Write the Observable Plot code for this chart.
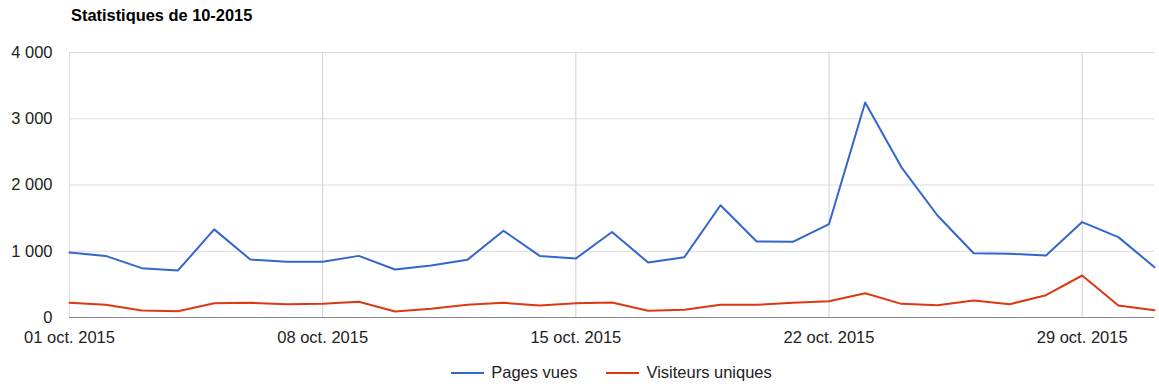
<!DOCTYPE html>
<html>
<head>
<meta charset="utf-8">
<script src="https://cdn.jsdelivr.net/npm/d3@7"></script>
<script src="https://cdn.jsdelivr.net/npm/@observablehq/plot@0.6"></script>
<style>
  html, body { margin: 0; padding: 0; background: #fff; }
  body { width: 1159px; height: 388px; position: relative; font-family: "Liberation Sans", Arial, sans-serif; overflow: hidden; }
  #title { position: absolute; left: 71px; top: 7px; font-size: 16.4px; line-height: 1; font-weight: bold; color: #000; white-space: nowrap; }
  #chart { position: absolute; left: 0; top: 36px; }
  #legend { position: absolute; left: 69px; width: 1085px; top: 363px; display: flex; justify-content: center; align-items: center; font-size: 16.5px; color: #222; }
  .item { display: flex; align-items: center; margin: 0 14.5px; }
  .sw { width: 33px; height: 2px; margin-right: 7px; }
</style>
</head>
<body>
<div id="title">Statistiques de 10-2015</div>
<div id="chart"></div>
<div id="legend"></div>
<script>
// Data
const year = 2015;
const monthIndex = 9; // October
const monthLabel = "oct.";
const days = [1,2,3,4,5,6,7,8,9,10,11,12,13,14,15,16,17,18,19,20,21,22,23,24,25,26,27,28,29,30,31];
const pagesVues = [980,930,745,710,1330,875,840,840,930,725,785,870,1310,930,890,1290,830,910,1695,1147,1143,1410,3245,2270,1540,970,962,936,1440,1213,760];
const visiteursUniques = [222,192,106,95,216,222,201,206,237,91,131,192,222,181,216,226,101,116,192,192,222,246,367,206,186,257,201,337,634,181,110];
const seriesNames = ["Pages vues", "Visiteurs uniques"];
const seriesColors = ["#3366cc", "#dc3912"];
const yTicks = [0, 1000, 2000, 3000, 4000];
const xTickDays = [1, 8, 15, 22, 29];

const toDate = d => new Date(Date.UTC(year, monthIndex, d));
const rows = [];
days.forEach((d, i) => {
  rows.push({date: toDate(d), value: pagesVues[i], series: seriesNames[0]});
  rows.push({date: toDate(d), value: visiteursUniques[i], series: seriesNames[1]});
});
const xTicks = xTickDays.map(toDate);
const fmtY = v => d3.format(",")(v).replace(/,/g, " ");
const fmtX = d => `${d3.utcFormat("%d")(d)} ${monthLabel} ${d.getUTCFullYear()}`;

const chart = Plot.plot({
  width: 1159,
  height: 320,
  marginTop: 16,
  marginBottom: 39,
  marginLeft: 69,
  marginRight: 5,
  style: {fontFamily: "'Liberation Sans', Arial, sans-serif", fontSize: "16.5px", color: "#222", background: "#fff"},
  x: {type: "utc", domain: [toDate(days[0]), toDate(days[days.length - 1])]},
  y: {domain: [0, 4000]},
  color: {domain: seriesNames, range: seriesColors},
  marks: [
    Plot.ruleY(yTicks.filter(v => v > 0), {stroke: "#dcdcdc", strokeWidth: 1}),
    Plot.ruleX(xTicks, {stroke: "#d0d0d0", strokeWidth: 1}),
    Plot.ruleX([toDate(days[0])], {stroke: "#dcdcdc", strokeWidth: 1}),
    Plot.ruleY([0], {stroke: "#888", strokeWidth: 1}),
    Plot.axisY({ticks: yTicks, tickFormat: fmtY, tickSize: 0, tickPadding: 17, label: null, fontSize: 16.5, fill: "#222"}),
    Plot.axisX({ticks: xTicks, tickFormat: fmtX, tickSize: 0, tickPadding: 14, label: null, fontSize: 16.5, fill: "#222"}),
    Plot.line(rows, {x: "date", y: "value", stroke: "series", z: "series", strokeWidth: 2, strokeLinejoin: "round"})
  ]
});
document.getElementById("chart").appendChild(chart);

const legend = document.getElementById("legend");
seriesNames.forEach((name, i) => {
  const item = document.createElement("div");
  item.className = "item";
  const sw = document.createElement("div");
  sw.className = "sw";
  sw.style.background = seriesColors[i];
  const label = document.createElement("span");
  label.textContent = name;
  item.appendChild(sw);
  item.appendChild(label);
  legend.appendChild(item);
});
</script>
</body>
</html>
